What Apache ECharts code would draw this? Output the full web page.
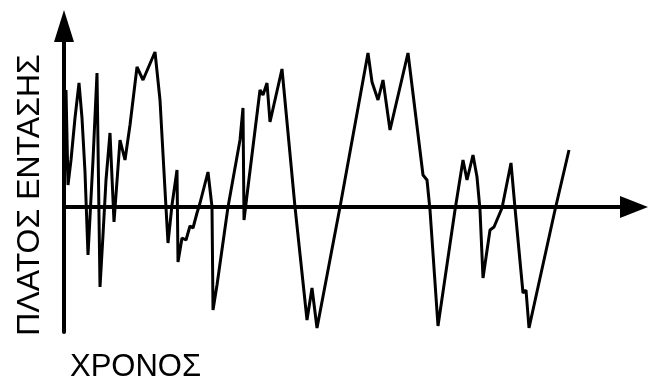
<!DOCTYPE html>
<html>
<head>
<meta charset="utf-8">
<script src="https://cdn.jsdelivr.net/npm/echarts@6/dist/echarts.min.js"></script>
<style>
html,body{margin:0;padding:0;background:#fff;}
#chart{width:649px;height:381px;}
</style>
</head>
<body>
<div id="chart"></div>
<script>
// time (arbitrary units) and amplitude (arbitrary units)
var time = [0,2,4,7,11,15,18,21,24,29,33,36,39,42,46,50,56,61,66,73,79,91,96,101,104,108,113,114,118,122,126,129,133,136,144,148,149,153,164,176,179,180,184,196,199,203,206,218,231,243,248,253,276,304,308,314,319,326,344,359,363,366,374,391,399,403,409,413,416,419,426,430,438,447,451,459,462,465,491,505];
var amplitude = [0,117,22,47,89,124,89,35,-48,47,134,-80,-28,27,74,-15,67,47,82,140,127,155,107,17,-36,2,37,-55,-31,-33,-19,-21,-6,4,35,0,-103,-78,0,67,99,-13,20,117,112,124,85,138,0,-113,-81,-121,0,154,125,107,127,77,154,32,27,-3,-119,-3,47,27,52,30,-3,-71,-23,-20,-1,44,-1,-86,-83,-121,-3,57];
var xName = 'ΧΡΟΝΟΣ';
var yName = 'ΠΛΑΤΟΣ ΕΝΤΑΣΗΣ';

var pts = time.map(function(t,i){ return [t, amplitude[i]]; });

var chart = echarts.init(document.getElementById('chart'), null, {renderer:'canvas'});
chart.setOption({
  animation: false,
  backgroundColor: '#ffffff',
  grid: {left: 64, right: 15, top: 26, bottom: 49},
  xAxis: {
    type: 'value', min: 0, max: 570,
    axisLine: {show: true, onZero: true, symbol: ['none','triangle'], symbolSize: [22, 28],
      lineStyle: {color: '#000', width: 4}},
    axisTick: {show: false}, axisLabel: {show: false}, splitLine: {show: false}
  },
  yAxis: {
    type: 'value', min: -125, max: 181,
    axisLine: {show: true, onZero: true, symbol: ['none','triangle'], symbolSize: [20, 32],
      lineStyle: {color: '#000', width: 4}},
    axisTick: {show: false}, axisLabel: {show: false}, splitLine: {show: false}
  },
  series: [{
    type: 'line', data: pts, symbol: 'none', smooth: false,
    lineStyle: {color: '#000', width: 3}
  }],
  graphic: [
    {type: 'text', x: 70, y: 367, style: {text: xName, fill: '#000',
      font: '31px "Liberation Sans", Arial, sans-serif', textAlign: 'left', textVerticalAlign: 'middle'}},
    {type: 'text', x: 30, y: 195, rotation: Math.PI/2, style: {text: yName, fill: '#000',
      font: '32px "Liberation Sans", Arial, sans-serif', textAlign: 'center', textVerticalAlign: 'middle'}}
  ]
});
</script>
</body>
</html>
